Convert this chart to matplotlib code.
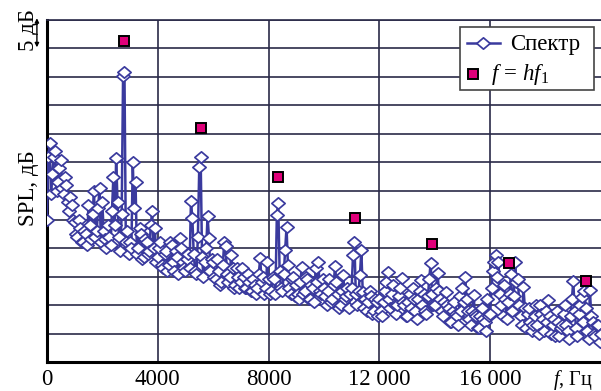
import numpy as np
import matplotlib
matplotlib.use("Agg")
import matplotlib.pyplot as plt
from matplotlib.lines import Line2D
from matplotlib.patches import Rectangle
from matplotlib.path import Path

# ---- data ----
freq_step = 50  # Hz
spectrum_db = [
    # 0 - 0.95 kHz
    25.0, 36.0, 38.5, 29.5, 33.0, 36.0, 37.0, 30.0, 31.5, 34.0,
    35.5, 30.5, 29.5, 32.5, 31.0, 28.0, 26.5, 29.0, 27.5, 25.0,
    # 1 - 1.95 kHz
    24.5, 22.5, 22.0, 25.0, 23.5, 21.0, 21.0, 23.0, 22.5, 20.5,
    27.5, 24.0, 21.5, 26.0, 30.0, 22.0, 23.0, 27.0, 30.5, 21.0,
    # 2 - 2.95 kHz
    28.0, 23.0, 21.5, 20.0, 24.0, 22.0, 20.5, 26.5, 32.5, 24.0,
    35.8, 28.0, 22.0, 19.5, 26.0, 50.2, 50.9, 21.0, 23.0, 19.0,
    # 3 - 3.95 kHz
    21.0, 20.0, 35.0, 27.0, 31.5, 19.0, 20.0, 23.5, 22.5, 18.0,
    18.5, 21.5, 21.0, 19.0, 19.5, 24.0, 26.5, 20.0, 23.5, 17.5,
    # 4 - 4.95 kHz
    18.5, 20.0, 21.0, 17.0, 16.5, 19.0, 19.5, 16.0, 17.0, 21.0,
    20.5, 17.5, 16.0, 19.5, 18.5, 15.5, 21.8, 20.0, 17.5, 16.5,
    # 5 - 5.95 kHz
    16.0, 18.0, 19.0, 16.5, 28.2, 25.3, 19.0, 16.0, 15.5, 22.0,
    34.2, 36.0, 18.5, 15.0, 17.5, 20.0, 25.6, 21.8, 16.0, 18.0,
    # 6 - 6.95 kHz
    17.5, 15.0, 14.5, 18.0, 16.0, 13.5, 14.0, 17.0, 21.0, 20.3,
    15.5, 14.0, 15.0, 18.8, 16.5, 13.0, 13.5, 16.5, 15.0, 13.0,
    # 7 - 7.95 kHz
    14.0, 16.5, 15.0, 13.0, 13.0, 15.5, 14.0, 12.5, 12.5, 14.5,
    13.5, 12.0, 13.0, 15.5, 18.2, 14.0, 15.0, 12.0, 13.0, 17.5,
    # 8 - 8.95 kHz
    14.5, 12.0, 12.5, 15.0, 14.5, 12.0, 25.8, 27.9, 16.0, 13.0,
    12.5, 15.5, 19.6, 23.7, 17.0, 13.0, 12.0, 14.5, 15.0, 11.5,
    # 9 - 9.95 kHz
    13.5, 12.0, 11.0, 14.0, 16.7, 12.0, 12.5, 15.0, 14.5, 11.0,
    11.0, 13.5, 13.0, 10.5, 16.5, 14.0, 17.5, 12.5, 12.0, 14.5,
    # 10 - 10.95 kHz
    13.0, 11.5, 10.0, 12.5, 14.5, 10.5, 11.0, 13.5, 16.8, 14.0,
    12.0, 9.5, 10.0, 12.5, 15.3, 11.0, 11.5, 13.0, 9.5, 12.0,
    # 11 - 11.95 kHz
    13.0, 18.8, 21.0, 12.0, 10.0, 12.5, 15.3, 19.6, 12.3, 9.5,
    11.0, 9.0, 10.5, 12.5, 11.5, 8.5, 9.0, 11.0, 10.5, 8.0,
    # 12 - 12.95 kHz
    11.0, 9.0, 8.0, 10.5, 12.5, 14.0, 15.8, 11.0, 9.5, 12.0,
    13.5, 10.0, 8.5, 10.0, 11.5, 13.0, 14.7, 10.5, 10.0, 8.0,
    # 13 - 13.95 kHz
    8.0, 10.5, 12.0, 9.5, 13.0, 11.0, 9.0, 7.5, 11.0, 12.5,
    14.4, 10.0, 12.0, 9.0, 8.5, 11.5, 14.6, 17.4, 12.0, 10.0,
    # 14 - 14.95 kHz
    10.0, 13.0, 15.6, 12.5, 11.0, 9.0, 8.0, 10.5, 12.3, 10.0,
    9.5, 7.0, 7.0, 9.0, 10.5, 8.5, 8.0, 6.5, 11.5, 9.0,
    # 15 - 15.95 kHz
    13.0, 10.5, 14.9, 11.0, 9.0, 7.5, 6.5, 9.0, 11.8, 8.5,
    8.0, 6.0, 6.0, 8.0, 9.5, 7.5, 7.0, 5.5, 11.0, 8.0,
    # 16 - 16.95 kHz
    8.5, 13.0, 16.0, 17.5, 18.8, 15.0, 17.5, 12.0, 10.0, 8.0,
    13.5, 11.0, 7.5, 10.5, 12.0, 15.5, 9.0, 11.5, 17.5, 14.0,
    # 17 - 17.95 kHz
    14.5, 10.0, 8.0, 6.5, 13.2, 9.5, 6.0, 8.5, 9.5, 7.0,
    5.5, 6.5, 8.0, 10.0, 6.5, 5.0, 10.0, 8.5, 7.5, 5.5,
    # 18 - 18.95 kHz
    9.0, 7.0, 10.9, 8.0, 5.0, 6.5, 7.5, 4.5, 9.0, 7.0,
    4.5, 6.0, 6.5, 8.5, 10.0, 6.5, 5.5, 4.0, 8.0, 11.0,
    # 19 - 19.95 kHz
    14.2, 9.0, 6.0, 4.5, 8.5, 10.0, 11.4, 7.0, 12.5, 9.5,
    5.5, 4.0, 12.6, 8.0, 7.0, 5.0, 4.5, 6.5, 6.5, 3.5,
    # 20 kHz
    5.0,
]
harmonic_freq = [2780, 5560, 8340, 11120, 13900, 16680, 19460]
harmonic_db = [56.3, 41.1, 32.5, 25.3, 20.7, 17.4, 14.2]

x_ticks = [0, 4000, 8000, 12000, 16000]
x_ticklabels = ["0", "4000", "8000", "12 000", "16 000"]

freqs = np.arange(len(spectrum_db)) * freq_step

# ---- style ----
plt.rcParams["font.family"] = ["Liberation Serif", "DejaVu Serif"]
plt.rcParams["mathtext.fontset"] = "custom"
plt.rcParams["mathtext.rm"] = "Liberation Serif"
plt.rcParams["mathtext.it"] = "Liberation Serif:italic"

navy = "#3a3a9e"
grid_c = "#2a2a48"
magenta = "#e0007a"

diamond = Path([(-1, 0), (0, 0.85), (1, 0), (0, -0.85), (-1, 0)],
               [Path.MOVETO, Path.LINETO, Path.LINETO, Path.LINETO,
                Path.CLOSEPOLY])
MS = 9.6

fig = plt.figure(figsize=(6.01, 3.91), dpi=100)
ax = fig.add_axes([0.078, 0.074, 0.922, 0.875])

ax.plot(freqs, spectrum_db, color=navy, lw=1.8, marker=diamond, ms=MS,
        mfc="white", mec=navy, mew=1.25, zorder=3)
ax.plot(harmonic_freq, harmonic_db, ls="none", marker="s", ms=7.8,
        mfc=magenta, mec="black", mew=1.4, zorder=4)

ax.set_xlim(0, 20000)
ax.set_ylim(0, 60)
ax.set_yticks(np.arange(0, 61, 5))
ax.set_yticklabels([])
ax.set_xticks(x_ticks)
ax.set_xticklabels(x_ticklabels, fontsize=16.5)
ax.tick_params(length=0, pad=5)
ax.grid(True, color=grid_c, lw=1.2)
ax.set_axisbelow(True)

for s in ["left", "bottom"]:
    ax.spines[s].set_linewidth(2.2)
    ax.spines[s].set_color("black")
ax.spines["top"].set_color(grid_c)
ax.spines["top"].set_linewidth(1.2)
ax.spines["right"].set_visible(False)

ax.text(0.985, -0.066, r"$f$, Гц", transform=ax.transAxes, ha="right",
        va="baseline", fontsize=14.5)

fig.text(0.047, 0.52, "SPL, дБ", rotation=90, ha="center", va="center",
         fontsize=16.5)
fig.text(0.047, 0.922, "5 дБ", rotation=90, ha="center", va="center",
         fontsize=16.5)
ax.annotate("", xy=(-0.018, 55.2), xytext=(-0.018, 60.3),
            xycoords=("axes fraction", "data"),
            arrowprops=dict(arrowstyle="<|-|>", color="black", lw=1.0,
                            mutation_scale=6, shrinkA=0, shrinkB=0),
            annotation_clip=False)

# ---- legend (drawn by hand to match layout) ----
W, H = 601.0, 391.0
def fx(px):
    return px / W
def fy(py):
    return 1 - py / H

frame = Rectangle((fx(460), fy(90)), fx(594) - fx(460), fy(27) - fy(90),
                  transform=fig.transFigure, facecolor="white",
                  edgecolor="#444444", lw=1.2, zorder=20)
fig.add_artist(frame)
fig.add_artist(Line2D([fx(467), fx(500)], [fy(43), fy(43)],
                      transform=fig.transFigure, color=navy, lw=1.8,
                      zorder=21))
fig.add_artist(Line2D([fx(483.5)], [fy(43)], transform=fig.transFigure,
                      ls="none", marker=diamond, ms=MS, mfc="white",
                      mec=navy, mew=1.25, zorder=22))
fig.text(fx(510), fy(50), "Спектр", ha="left", va="baseline",
         fontsize=16.5, zorder=22)
fig.add_artist(Line2D([fx(473)], [fy(74)], transform=fig.transFigure,
                      ls="none", marker="s", ms=7.8, mfc=magenta,
                      mec="black", mew=1.4, zorder=22))
fig.text(fx(491), fy(80), r"$f\,{=}\,hf_1$", ha="left", va="baseline",
         fontsize=16.5, zorder=22)

fig.savefig("out.png", dpi=100)
